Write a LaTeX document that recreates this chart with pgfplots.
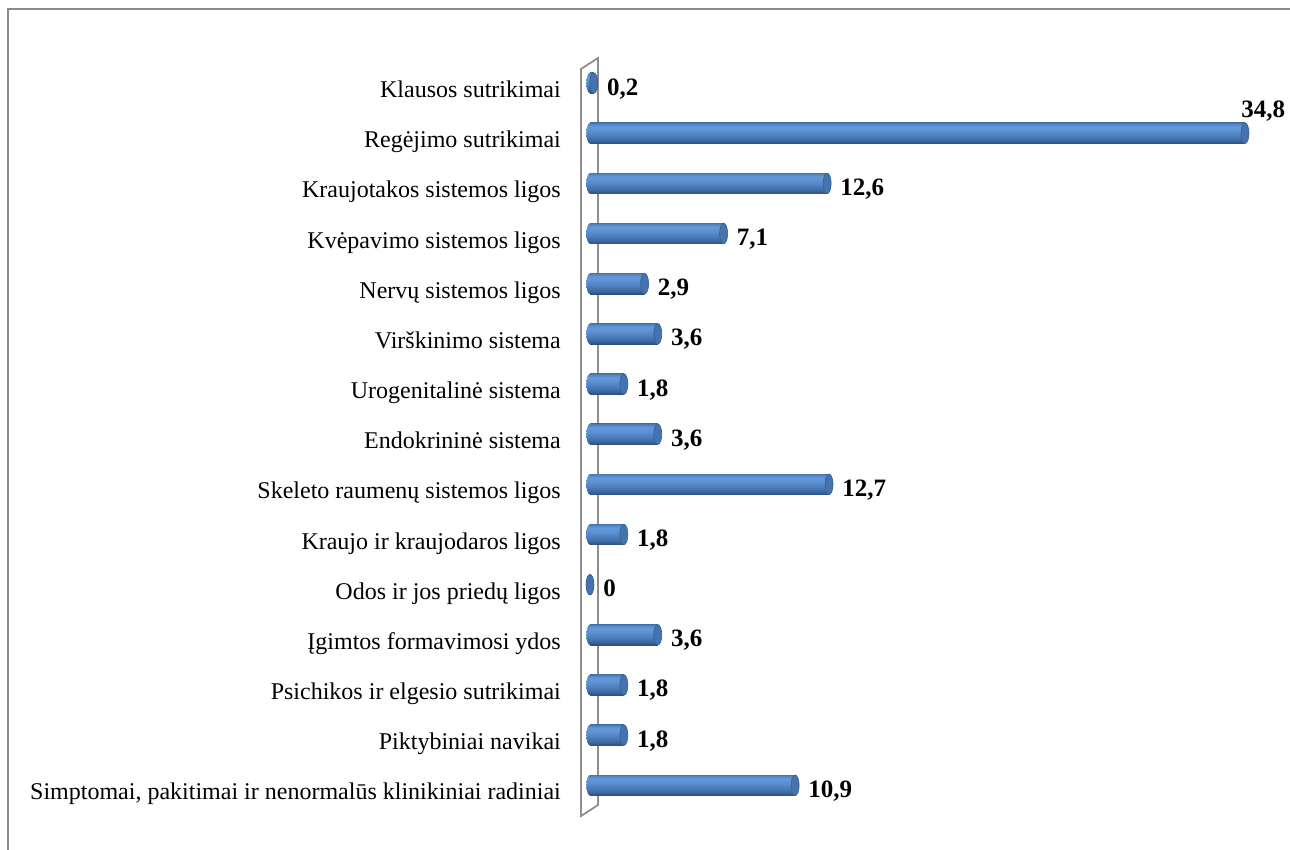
\documentclass[border=0pt]{standalone}
\usepackage{pgfplots}
\pgfplotsset{compat=1.18}
\usepackage{pgfplotstable}
\usepackage{fontspec}
\setmainfont{Liberation Serif}

\definecolor{framegray}{HTML}{8A8A8A}
\definecolor{wallgray}{HTML}{8E8E8E}
\definecolor{capfill}{HTML}{4673AD}
\definecolor{capdraw}{HTML}{355E94}
\definecolor{cA}{HTML}{2A4E82}
\definecolor{cB}{HTML}{3A669F}
\definecolor{cC}{HTML}{4E80BF}
\definecolor{cD}{HTML}{5E93D3}
\definecolor{cE}{HTML}{6499D9}
\definecolor{cF}{HTML}{5687C4}
\definecolor{cG}{HTML}{4677B3}

\pgfdeclareverticalshading{cyl}{100bp}{color(0bp)=(cA); color(25bp)=(cA); color(32bp)=(cB); color(45bp)=(cC); color(58bp)=(cD); color(66bp)=(cE); color(72bp)=(cF); color(75bp)=(cG); color(100bp)=(cG)}

\pgfdeclareplotmark{rcap}{%
  \pgfpathellipse{\pgfpointorigin}{\pgfpoint{4bp}{0pt}}{\pgfpoint{0pt}{10.3bp}}%
  \pgfusepathqfillstroke}
\pgfdeclareplotmark{lcap}{%
  \pgfpathellipse{\pgfpointorigin}{\pgfpoint{3.6bp}{0pt}}{\pgfpoint{0pt}{10.3bp}}%
  \pgfshadepath{cyl}{0}\pgfusepath{}}

\tikzset{vlabel/.style={anchor=base west, inner sep=0pt,
    font=\bfseries\fontsize{25bp}{30bp}\selectfont, text=black}}

% all bars: index (0 = bottom), value, label
\pgfplotstableread{
i v lab
14 0.2 0,2
13 34.8 34,8
12 12.6 12,6
11 7.1 7,1
10 2.9 2,9
9 3.6 3,6
8 1.8 1,8
7 3.6 3,6
6 12.7 12,7
5 1.8 1,8
4 0 0
3 3.6 3,6
2 1.8 1,8
1 1.8 1,8
0 10.9 10,9
}\datatab
% bars labelled to the right of their end
\pgfplotstableread{
i v lab
14 0.2 0,2
12 12.6 12,6
11 7.1 7,1
10 2.9 2,9
9 3.6 3,6
8 1.8 1,8
7 3.6 3,6
6 12.7 12,7
5 1.8 1,8
4 0 0
3 3.6 3,6
2 1.8 1,8
1 1.8 1,8
0 10.9 10,9
}\tabright
% bar labelled above its end
\pgfplotstableread{
i v lab
13 34.8 34,8
}\tababove

\begin{document}
\begin{tikzpicture}
\useasboundingbox (0,0) rectangle (1290bp,850bp);
% 3D wall
\draw[wallgray, line width=1.8bp] (598bp,792bp) -- (581bp,781bp) -- (581bp,34bp) -- (598bp,45bp) -- cycle;
% outer frame
\draw[framegray, line width=2bp] (7.5bp,0bp) -- (7.5bp,840.5bp) -- (1290bp,840.5bp);
\begin{axis}[
  at={(590bp,39.6bp)}, anchor=south west, scale only axis,
  width=655bp, height=752.4bp,
  xmin=0, xmax=34.8, ymin=-0.5, ymax=14.5,
  clip=false,
  axis line style={draw=none}, tick style={draw=none},
  xtick=\empty, ytick={0,...,14},
  yticklabels={{Simptomai, pakitimai ir nenormalūs klinikiniai radiniai},
    Piktybiniai navikai, Psichikos ir elgesio sutrikimai,
    Įgimtos formavimosi ydos, Odos ir jos priedų ligos,
    Kraujo ir kraujodaros ligos, Skeleto raumenų sistemos ligos,
    Endokrininė sistema, Urogenitalinė sistema, Virškinimo sistema,
    Nervų sistemos ligos, Kvėpavimo sistemos ligos,
    Kraujotakos sistemos ligos, Regėjimo sutrikimai, Klausos sutrikimai},
  yticklabel style={font=\fontsize{24bp}{28bp}\selectfont, anchor=base east,
    inner sep=0pt, xshift=-29bp, yshift=-14.5bp},
  capstyle/.style={only marks, mark=rcap,
    mark options={fill=capfill, draw=capdraw, line width=0.6bp},
    nodes near coords, point meta=explicit symbolic},
]
\addplot[only marks, mark=lcap] table[x expr=0, y=i]{\datatab};
% one bar per plot so that each cylinder gets its own shading
\pgfplotsinvokeforeach{0,...,14}{
  \addplot[xbar, bar width=20.6bp, draw=none, shade, shading=cyl,
    y filter/.expression={abs(y-#1)<0.01 ? y : nan}]
    table[x=v, y=i]{\datatab};
}
\addplot[capstyle,
  every node near coord/.append style={vlabel, xshift=13bp, yshift=-12bp}]
  table[x=v, y=i, meta=lab]{\tabright};
\addplot[capstyle,
  every node near coord/.append style={vlabel, xshift=-4bp, yshift=16bp}]
  table[x=v, y=i, meta=lab]{\tababove};
\end{axis}
\end{tikzpicture}
\end{document}
